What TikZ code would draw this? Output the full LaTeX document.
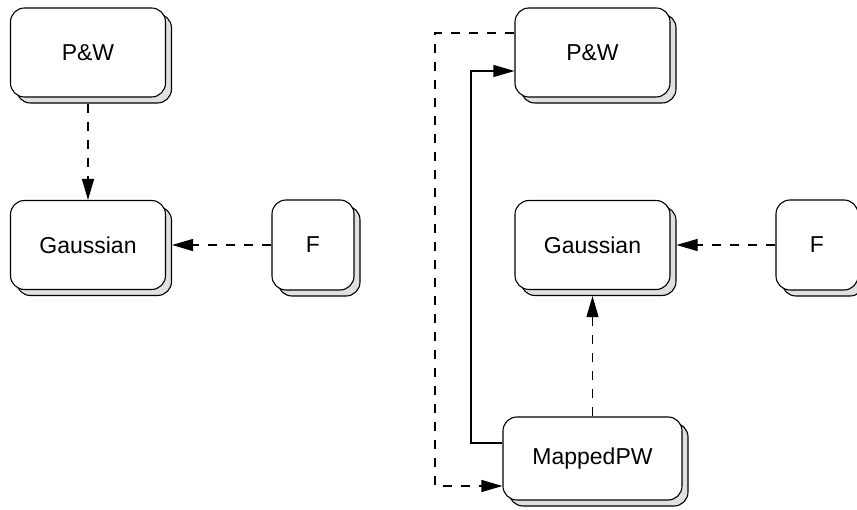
\documentclass[tikz,border=0pt]{standalone}
\usepackage{fontspec}
\setmainfont{Liberation Sans}
\usetikzlibrary{shadows,arrows.meta,calc}
\begin{document}
\begin{tikzpicture}[x=1pt,y=-1pt,
  box/.style={draw=black,line width=1.1pt,fill=white,rounded corners=14pt,
    inner sep=0pt,font=\fontsize{23}{27}\selectfont,
    copy shadow={shadow xshift=6pt,shadow yshift=-6pt,fill=black!12,draw=black,line width=1.1pt}},
  wide/.style={box,minimum width=155pt,minimum height=89pt},
  narrow/.style={box,minimum width=82pt,minimum height=90pt},
  link/.style={line width=1.1pt,-{Triangle[length=21pt,width=12pt]}},
  dlink/.style={link,dash pattern=on 9pt off 9pt}]
\useasboundingbox (0,0) rectangle (857,510);
\node[wide] (lpw) at (88,52.5) {P\&W};
\node[wide] (lg) at (88,245) {Gaussian};
\node[narrow] (lf) at (313,245) {F};
\node[wide] (rpw) at (592.5,52.5) {P\&W};
\node[wide] (rg) at (592.5,245) {Gaussian};
\node[narrow] (rf) at (817,245) {F};
\node[box,minimum width=179pt,minimum height=83pt] (mpw) at (592.5,458.5) {MappedPW};
\coordinate (c1) at (435,33);
\coordinate (c2) at (435,486);
\coordinate (s1) at (471,443);
\coordinate (s2) at (471,71);
\draw[dlink] ([yshift=-6pt]lpw.south) -- (lg.north);
\draw[dlink] (lf.west) -- ([xshift=6pt]lg.east);
\draw[dlink] (rf.west) -- ([xshift=6pt]rg.east);
\draw[dlink] (mpw.north) -- ([yshift=-6pt]rg.south);
\draw[dlink] (rpw.west |- c1) -- (c1) -- (c2) -- (mpw.west |- c2);
\draw[link] (mpw.west |- s1) -- (s1) -- (s2) -- (rpw.west |- s2);
\end{tikzpicture}
\end{document}
